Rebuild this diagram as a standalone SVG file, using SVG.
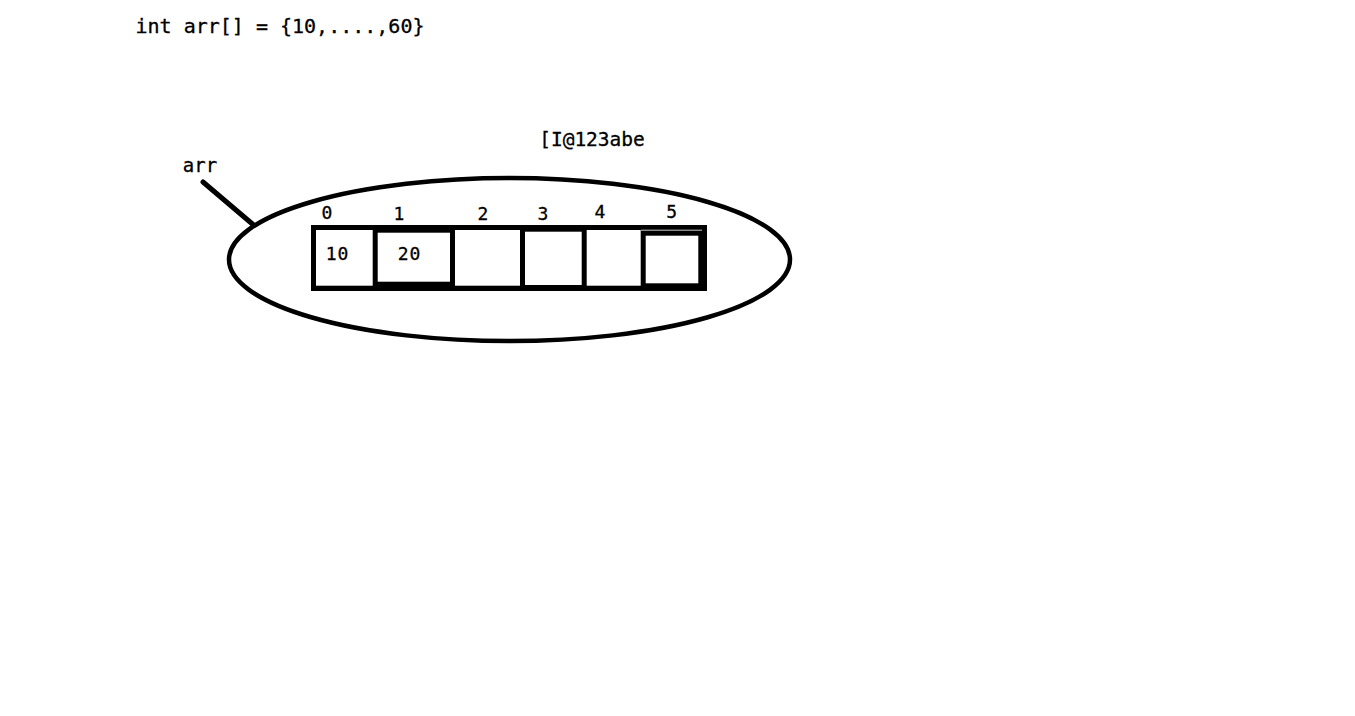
<svg xmlns="http://www.w3.org/2000/svg" width="1355" height="716" viewBox="0 0 1355 716">
  <style>
    .mono { font-family: "DejaVu Sans Mono", "Liberation Mono", monospace; fill: #000; stroke: #000; stroke-width: 0.3px; }
    .big { font-size: 20px; }
    .idx { font-size: 18px; text-anchor: middle; }
    .val { font-size: 18px; text-anchor: middle; letter-spacing: 1px; }
    .cell { fill: #fff; }
  </style>
  <rect x="0" y="0" width="1355" height="716" fill="#fff"/>

  <g id="code">
    <text class="mono big" x="280" y="32.5" text-anchor="middle">int arr[] = {10,....,60}</text>
  </g>

  <g id="address">
    <text class="mono big" x="592" y="146" text-anchor="middle" style="font-size:19.5px">[I@123abe</text>
  </g>

  <g id="ref-arr">
    <text class="mono" x="200" y="172" text-anchor="middle" style="font-size:19px">arr</text>
  </g>

  <g id="connectors">
    <line x1="203" y1="182" x2="253" y2="224.5" stroke="#000" stroke-width="5" stroke-linecap="round"/>
  </g>

  <g id="array-object">
    <ellipse cx="509.5" cy="259.6" rx="280.5" ry="81.5" fill="none" stroke="#000" stroke-width="4.5"/>
  </g>

  <g id="array-frame">
    <rect x="311" y="225" width="396" height="66" fill="#000"/>
  </g>

  <g id="cell-0">
    <rect class="cell" x="316" y="230" width="56.7" height="55.7"/>
    <text class="mono idx" x="327" y="219">0</text>
    <text class="mono val" x="337.5" y="260">10</text>
  </g>
  <g id="cell-1">
    <rect class="cell" x="377.7" y="232.7" width="72.3" height="49"/>
    <text class="mono idx" x="399" y="220">1</text>
    <text class="mono val" x="409.5" y="260">20</text>
  </g>
  <g id="cell-2">
    <rect class="cell" x="455" y="230" width="65" height="55.7"/>
    <text class="mono idx" x="483" y="220">2</text>
  </g>
  <g id="cell-3">
    <rect class="cell" x="525" y="231.7" width="56.7" height="53.3"/>
    <text class="mono idx" x="543" y="220">3</text>
  </g>
  <g id="cell-4">
    <rect class="cell" x="586.7" y="230" width="54" height="55.7"/>
    <text class="mono idx" x="600" y="218">4</text>
  </g>
  <g id="cell-5">
    <line x1="641" y1="230.2" x2="702" y2="230.2" stroke="#fff" stroke-width="0.8"/>
    <rect class="cell" x="645.7" y="235.7" width="52.6" height="47.6"/>
    <text class="mono idx" x="671.7" y="218">5</text>
  </g>
</svg>
